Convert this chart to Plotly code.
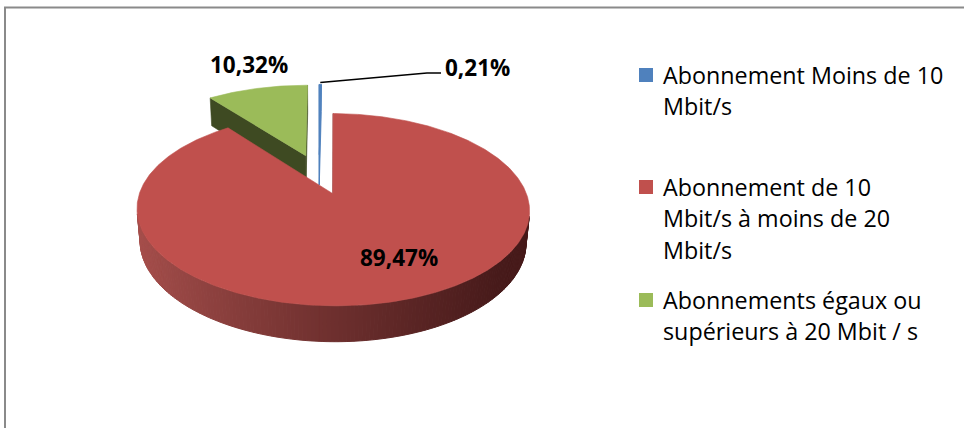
import numpy as np
import plotly.graph_objects as go

# ---------------- data ----------------
labels = ["Abonnement Moins de 10 Mbit/s",
          "Abonnement de 10 Mbit/s à moins de 20 Mbit/s",
          "Abonnements égaux ou supérieurs à 20 Mbit / s"]
values = [0.21, 89.47, 10.32]
value_text = ["0,21%", "89,47%", "10,32%"]
legend_lines = [["Abonnement Moins de 10", "Mbit/s"],
                ["Abonnement de 10", "Mbit/s à moins de 20", "Mbit/s"],
                ["Abonnements égaux ou", "supérieurs à 20 Mbit / s"]]

# ---------------- style / layout ----------------
top_colors = ["#4f81bd", "#c0504d", "#9bbb59"]
side_light = ["#4f81bd", "#a54e4b", "#7a9645"]
side_dark = ["#3a6294", "#471a1a", "#3e4a22"]
wall_colors = ["#4f81bd", "#8a3b39", "#3e4a22"]
edge_widths = [0.9, 0.6, 0.6]

W, H = 964, 428
CX, CY = 319.0, 174.0
FOC = 1033.0
DIST = 5.53
TILT = np.radians(27.8)
THICK = 0.191
EXPLODE = 0.23
SIN, COS = np.sin(TILT), np.cos(TILT)
CAM = np.array([0.0, DIST * SIN, DIST * COS])


def proj(X, Y, Z):
    X, Y, Z = np.asarray(X, float), np.asarray(Y, float), np.asarray(Z, float)
    up = Y * COS - Z * SIN
    depth = DIST - (Z * COS + Y * SIN)
    return CX + FOC * X / depth, CY - FOC * up / depth


def poly(fig, xs, ys, fill, line_color=None, lw=0.6):
    fig.add_trace(go.Scatter(
        x=list(xs) + [xs[0]], y=list(ys) + [ys[0]], mode="lines",
        fill="toself", fillcolor=fill,
        line=dict(color=line_color or fill, width=lw),
        hoverinfo="skip", showlegend=False))


def lerp_color(c1, c2, t):
    a = [int(c1[i:i + 2], 16) for i in (1, 3, 5)]
    b = [int(c2[i:i + 2], 16) for i in (1, 3, 5)]
    return "#" + "".join(f"{int(round(a[k] + (b[k] - a[k]) * t)):02x}" for k in range(3))


fig = go.Figure()

total = float(sum(values))
bounds = np.concatenate([[0.0], np.cumsum(values) / total * 360.0])
slices = []
for i in range(len(values)):
    a, b = bounds[i], bounds[i + 1]
    m = np.radians((a + b) / 2)
    ox, oz = EXPLODE * np.sin(m), -EXPLODE * np.cos(m)
    slices.append((i, a, b, ox, oz))

# painter's order: back slices first
for i, a, b, ox, oz in sorted(slices, key=lambda s: s[4]):
    # radial walls
    for ang, sign in ((a, -1), (b, 1)):
        r = np.radians(ang)
        n = sign * np.array([np.cos(r), 0.0, np.sin(r)])
        p = np.array([ox, 0.0, oz])
        if n @ (CAM - p) > 0:
            X = [ox, ox + np.sin(r), ox + np.sin(r), ox]
            Z = [oz, oz - np.cos(r), oz - np.cos(r), oz]
            Y = [0, 0, -THICK, -THICK]
            xs, ys = proj(X, Y, Z)
            poly(fig, xs, ys, wall_colors[i], wall_colors[i], edge_widths[i])
    # outer side strips
    n_strip = max(2, int(np.ceil((b - a) / 1.0)))
    edges = np.linspace(a, b, n_strip + 1)
    for k in range(n_strip):
        p1, p2 = np.radians(edges[k]), np.radians(edges[k + 1])
        pm = (p1 + p2) / 2
        nrm = np.array([np.sin(pm), 0.0, -np.cos(pm)])
        pt = np.array([ox + np.sin(pm), -THICK / 2, oz - np.cos(pm)])
        if nrm @ (CAM - pt) <= 0:
            continue
        ph = np.linspace(p1, p2, 3)
        Xt, Zt = ox + np.sin(ph), oz - np.cos(ph)
        xt, yt = proj(Xt, np.zeros_like(ph), Zt)
        xb, yb = proj(Xt[::-1], np.full_like(ph, -THICK), Zt[::-1])
        xm = float(np.mean(xt))
        t = np.clip((xm - 140.0) / (500.0 - 140.0), 0, 1) ** 0.85
        col = lerp_color(side_light[i], side_dark[i], t)
        poly(fig, np.concatenate([xt, xb]), np.concatenate([yt, yb]), col, col, 1.0)
    # top face
    ph = np.radians(np.linspace(a, b, max(3, int((b - a) * 2) + 2)))
    X = np.concatenate([[ox], ox + np.sin(ph)])
    Z = np.concatenate([[oz], oz - np.cos(ph)])
    xs, ys = proj(X, np.zeros_like(X), Z)
    poly(fig, xs, ys, top_colors[i], top_colors[i], edge_widths[i])

# ---------------- data labels ----------------
label_pos = {0: (443, 67, "left"), 1: (399, 257, "center"), 2: (249, 64, "center")}
for i, txt in enumerate(value_text):
    x, y, al = label_pos[i]
    fig.add_annotation(x=x, y=y, text=f"<b>{txt}</b>", showarrow=False,
                       xanchor=al, yanchor="middle",
                       font=dict(family="Open Sans", size=22.5, color="#000000"))

# leader line for the smallest slice
_, a0, b0, ox0, oz0 = slices[0]
rm = np.radians((a0 + b0) / 2)
lx, ly = proj([ox0 + np.sin(rm)], [0.0], [oz0 - np.cos(rm)])
fig.add_trace(go.Scatter(x=[float(lx[0]), 427, 441], y=[float(ly[0]) - 2, 73, 73],
                         mode="lines", line=dict(color="#000000", width=1.5),
                         hoverinfo="skip", showlegend=False))

# ---------------- legend ----------------
legend_y = [[75, 106], [187, 218, 250], [300, 331]]
for i, lines in enumerate(legend_lines):
    y0 = legend_y[i][0]
    fig.add_shape(type="rect", x0=639, x1=653, y0=y0 - 7, y1=y0 + 7,
                  fillcolor=top_colors[i], line=dict(width=0), xref="x", yref="y")
    for ln, yy in zip(lines, legend_y[i]):
        fig.add_annotation(x=661, y=yy, text=ln, showarrow=False,
                           xanchor="left", yanchor="middle",
                           font=dict(family="Open Sans", size=23.3, color="#000000"))

# chart border
fig.add_shape(type="rect", x0=5, y0=7.5, x1=1200, y1=900,
              line=dict(color="#8a8a8a", width=2), xref="x", yref="y", layer="below")

fig.update_layout(
    width=W, height=H, margin=dict(l=0, r=0, t=0, b=0),
    paper_bgcolor="white", plot_bgcolor="white", showlegend=False,
    xaxis=dict(range=[0, W], visible=False, fixedrange=True),
    yaxis=dict(range=[H, 0], visible=False, fixedrange=True),
)
fig.write_html("out.html", config={"displayModeBar": False, "staticPlot": True},
               post_script="document.body.style.margin='0';document.body.style.overflow='hidden';")
